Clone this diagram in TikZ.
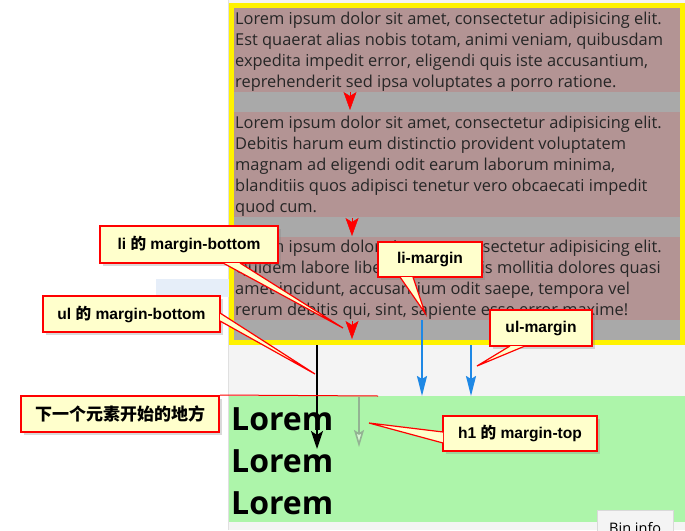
\documentclass[tikz,border=0pt]{standalone}
\usepackage{fontspec}
\usepackage{tikz}
\usetikzlibrary{arrows.meta,shadows}
\newfontfamily\bodyfont{Open Sans}
\newfontfamily\tipfont{Liberation Sans}
\newfontfamily\cjk{Noto Sans CJK SC}
\definecolor{pagebg}{HTML}{F4F4F4}
\definecolor{gapgray}{HTML}{A9A9A9}
\definecolor{libg}{HTML}{B39494}
\definecolor{hgreen}{HTML}{ADF5AA}
\definecolor{tipyellow}{HTML}{FFFFCC}
\definecolor{arrowblue}{HTML}{1E88E5}
\definecolor{paleblue}{HTML}{E6EEF9}
\definecolor{paleline}{HTML}{93B393}
\definecolor{palefill}{HTML}{D8F5D4}
\tikzset{
  libox/.style={fill=libg,minimum width=446pt,inner sep=0pt},
  litext/.style={anchor=north west,inner sep=0pt,align=left,text=black!85,font=\bodyfont\fontsize{16.4}{21}\selectfont},
  heading/.style={anchor=base west,inner sep=0pt,font=\bodyfont\bfseries\fontsize{32}{38}\selectfont},
  tipbox/.style={draw=red,line width=2pt,fill=tipyellow,inner sep=0pt,font=\tipfont\bfseries\fontsize{15.6}{18}\selectfont,
    drop shadow={opacity=0.3,shadow xshift=3pt,shadow yshift=-3pt}},
  wedge/.style={draw=red,fill=tipyellow,line width=1.2pt},
  gaptip/.style={red,line width=0.5pt,-{Stealth[length=18pt,width=13pt,inset=4pt]}},
  bluearrow/.style={arrowblue,line width=2pt,-{Stealth[length=20pt,width=10pt,inset=3pt]}},
}
\begin{document}
\begin{tikzpicture}[x=1pt,y=-1pt]
\useasboundingbox (0,0) rectangle (685,530);
\clip (0,0) rectangle (685,530);
% page background
\fill[pagebg] (229,0) rectangle (685,530);
\draw[black!12] (228.5,0) -- (228.5,530);
\fill[paleblue] (156,279) rectangle (229,297);

% the list
\fill[gapgray] (234,8) rectangle (680,340);
\node[libox,minimum height=84pt] (li1) at (457,50) {};
\node[libox,minimum height=105pt] (li2) at (457,164.5) {};
\node[libox,minimum height=83pt] (li3) at (457,278.5) {};
\draw[yellow,line width=5pt] (231.5,5.5) rectangle (682.5,342.5);
\node[litext] (t1) at (235,12) {Lorem ipsum dolor sit amet, consectetur adipisicing elit.\\
Est quaerat alias nobis totam, animi veniam, quibusdam\\
expedita impedit error, eligendi quis iste accusantium,\\
reprehenderit sed ipsa voluptates a porro ratione.};
\node[litext] (t2) at (235,116) {Lorem ipsum dolor sit amet, consectetur adipisicing elit.\\
Debitis harum eum distinctio provident voluptatem\\
magnam ad eligendi odit earum laborum minima,\\
blanditiis quos adipisci tenetur vero obcaecati impedit\\
quod cum.};
\node[litext] (t3) at (235,240) {Lorem ipsum dolor sit amet, consectetur adipisicing elit.\\
Quidem labore libero nemo nobis mollitia dolores quasi\\
amet incidunt, accusantium odit saepe, tempora vel\\
rerum debitis qui, sint, sapiente esse error maxime!};

% red tips in the gaps
\coordinate (g1a) at (350,92);  \coordinate (g1b) at (350,110);
\coordinate (g2a) at (352,218); \coordinate (g2b) at (352,236);
\coordinate (g3a) at (352,321); \coordinate (g3b) at (352,339);
\draw[gaptip] (g1a) -- (g1b);
\draw[gaptip] (g2a) -- (g2b);
\draw[gaptip] (g3a) -- (g3b);

% h1 block
\fill[hgreen] (229,396) rectangle (685,522);
\node[heading] (h1a) at (231,430) {Lorem};
\node[heading] (h1b) at (231,472) {Lorem};
\node[heading] (h1c) at (231,514) {Lorem};
\node[draw=black!15,fill=pagebg,anchor=north west,minimum width=76pt,minimum height=40pt,
  text height=10pt,text depth=3pt,inner ysep=0pt,font=\bodyfont\fontsize{14.5}{16}\selectfont] (bin) at (597,510) {Bin info};

% margin arrows
\coordinate (k1) at (317,345); \coordinate (k2) at (317,449);
\coordinate (e1) at (359,397); \coordinate (e2) at (359,447);
\coordinate (b1) at (422,320); \coordinate (b2) at (422,396);
\coordinate (b3) at (471,345); \coordinate (b4) at (471,396);
\draw[black,line width=2pt,-{Stealth[length=18pt,width=12pt,inset=4pt]}] (k1) -- (k2);
\draw[paleline,line width=1.6pt,-{Stealth[length=17pt,width=10pt,inset=3pt,fill=palefill]}] (e1) -- (e2);
\draw[bluearrow] (b1) -- (b2);
\draw[bluearrow] (b3) -- (b4);

% callouts
\node[tipbox,minimum width=178pt,minimum height=37pt] (lib) at (189,244.5) {li {\cjk 的} margin-bottom};
\node[tipbox,minimum width=177pt,minimum height=36pt] (ulb) at (131.5,314) {ul {\cjk 的} margin-bottom};
\node[tipbox,minimum width=104pt,minimum height=35pt] (lim) at (430,259.5) {li-margin};
\node[tipbox,minimum width=102pt,minimum height=36pt] (ulm) at (541,328) {ul-margin};
\node[tipbox,minimum width=154pt,minimum height=35pt] (h1m) at (520,433.5) {h1 {\cjk 的} margin-top};
\node[tipbox,minimum width=198pt,minimum height=36pt,font=\cjk\bfseries\fontsize{17}{18}\selectfont] (next) at (120,414) {下一个元素开始的地方};

\coordinate (p1) at (343,328);
\coordinate (p2) at (315,374);
\coordinate (p3) at (425,313);
\coordinate (p4) at (477,366);
\coordinate (p5) at (369,423);
\coordinate (p6) at (378,396);
\filldraw[wedge] ([xshift=34pt,yshift=1pt]lib.south) -- (p1) -- ([xshift=51pt,yshift=1pt]lib.south);
\filldraw[wedge] ([xshift=-1pt,yshift=1pt]ulb.east) -- (p2) -- ([xshift=-1pt,yshift=-7pt]ulb.east);
\filldraw[wedge] ([xshift=-30pt,yshift=1pt]lim.south) -- (p3) -- ([xshift=-17pt,yshift=1pt]lim.south);
\filldraw[wedge] ([xshift=-31pt,yshift=1pt]ulm.south) -- (p4) -- ([xshift=-16pt,yshift=1pt]ulm.south);
\filldraw[wedge] ([xshift=1pt,yshift=1.5pt]h1m.west) -- (p5) -- ([xshift=1pt,yshift=-9.5pt]h1m.west);
\draw[red,line width=1pt] (next.north east) -- (p6);
\end{tikzpicture}
\end{document}
